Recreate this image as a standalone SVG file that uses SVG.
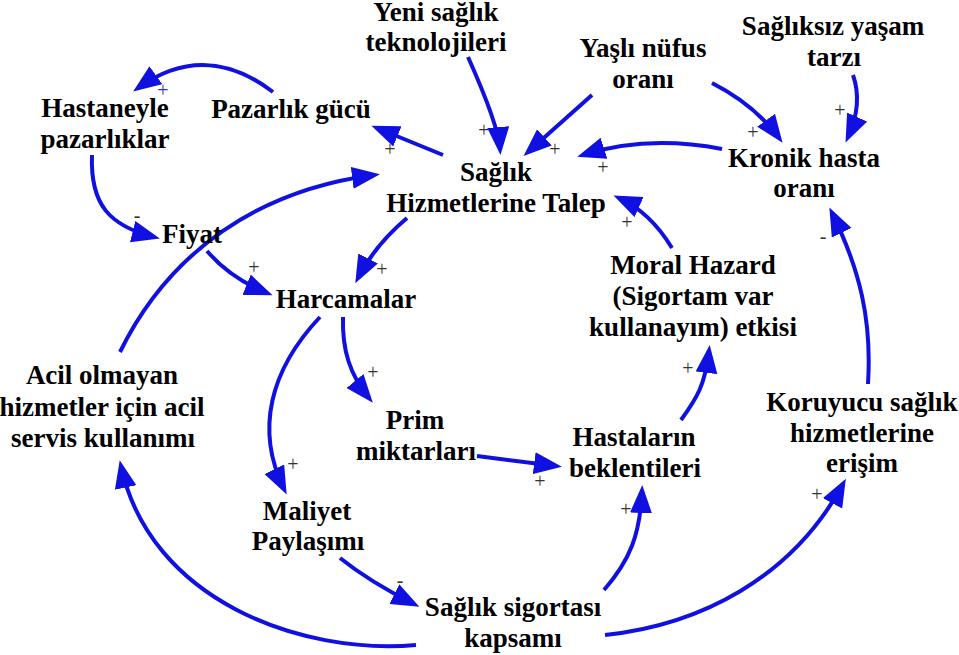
<svg xmlns="http://www.w3.org/2000/svg" width="959" height="655" viewBox="0 0 959 655">
<defs>
<marker id="ah" markerUnits="userSpaceOnUse" markerWidth="30" markerHeight="24" refX="22" refY="11" orient="auto">
<path d="M0,0 L28,11 L0,22 z" fill="#1010e0"/>
</marker>
<style>
.n{font-family:"Liberation Serif","Times New Roman",serif;font-weight:bold;font-size:27px;fill:#000;text-anchor:middle}
.c path{fill:none;stroke:#1010e0;stroke-width:4;marker-end:url(#ah)}
.p{font-family:"Liberation Serif","Times New Roman",serif;font-size:20px;fill:#333;text-anchor:middle}
</style>
</defs>
<rect width="959" height="655" fill="#fff"/>
<g class="c" id="connectors">
<path d="M273,92 Q205,40 138,88"/>
<path d="M92,155 C90,205 110,226 154,237"/>
<path d="M443,155 L377,128"/>
<path d="M120,352 C170,250 260,190 374,175"/>
<path d="M207,251 Q230,278 267,293"/>
<path d="M407,218 Q375,245 358,278"/>
<path d="M468,57 Q498,124 500,149"/>
<path d="M592,95 L528,152"/>
<path d="M722,149 C680,141 630,140 583,155"/>
<path d="M712,83 Q755,105 779,138"/>
<path d="M853,75 C860,95 858,115 848,137"/>
<path d="M672,248 Q650,212 619,198"/>
<path d="M868,384 C872,320 860,270 832,213"/>
<path d="M320,317 C270,370 255,430 284,489"/>
<path d="M343,317 C342,350 350,375 369,398"/>
<path d="M477,456 Q510,460 556,466"/>
<path d="M340,558 Q370,582 414,604"/>
<path d="M416,645 C300,655 150,600 121,466"/>
<path d="M604,590 C630,560 640,535 642,491"/>
<path d="M681,420 C697,398 705,385 709,351"/>
<path d="M605,635 C700,625 792,578 843,484"/>
</g>
<g id="polarities">
<text class="p" x="163" y="97" style="fill:#3535c0">+</text>
<text class="p" x="137" y="222">-</text>
<text class="p" x="390" y="156">+</text>
<text class="p" x="254" y="274">+</text>
<text class="p" x="382" y="276">+</text>
<text class="p" x="484" y="137">+</text>
<text class="p" x="555" y="156">+</text>
<text class="p" x="603" y="174">+</text>
<text class="p" x="753" y="139">+</text>
<text class="p" x="840" y="117">+</text>
<text class="p" x="627" y="229">+</text>
<text class="p" x="823" y="243">-</text>
<text class="p" x="293" y="471">+</text>
<text class="p" x="373" y="379">+</text>
<text class="p" x="540" y="488">+</text>
<text class="p" x="400" y="587">-</text>
<text class="p" x="626" y="516">+</text>
<text class="p" x="688" y="375">+</text>
<text class="p" x="817" y="501">+</text>
</g>
<g id="hastaneyle"><text class="n" x="105" y="117">Hastaneyle</text><text class="n" x="105" y="148">pazarlıklar</text></g>
<g id="pazarlik"><text class="n" x="291" y="118">Pazarlık gücü</text></g>
<g id="yeni"><text class="n" x="436" y="21">Yeni sağlık</text><text class="n" x="436" y="51">teknolojileri</text></g>
<g id="talep"><text class="n" x="496" y="181">Sağlık</text><text class="n" x="496" y="212">Hizmetlerine Talep</text></g>
<g id="yasli"><text class="n" x="643" y="57">Yaşlı nüfus</text><text class="n" x="643" y="88">oranı</text></g>
<g id="sagliksiz"><text class="n" x="833" y="35">Sağlıksız yaşam</text><text class="n" x="834" y="66">tarzı</text></g>
<g id="kronik"><text class="n" x="804" y="167">Kronik hasta</text><text class="n" x="804" y="197">oranı</text></g>
<g id="fiyat"><text class="n" x="192" y="243">Fiyat</text></g>
<g id="harcamalar"><text class="n" x="346" y="308">Harcamalar</text></g>
<g id="moral"><text class="n" x="693" y="274">Moral Hazard</text><text class="n" x="693" y="305">(Sigortam var</text><text class="n" x="693" y="336">kullanayım) etkisi</text></g>
<g id="acil"><text class="n" x="102" y="384">Acil olmayan</text><text class="n" x="102" y="416">hizmetler için acil</text><text class="n" x="103" y="447">servis kullanımı</text></g>
<g id="prim"><text class="n" x="415" y="429">Prim</text><text class="n" x="416" y="460">miktarları</text></g>
<g id="maliyet"><text class="n" x="307" y="520">Maliyet</text><text class="n" x="308" y="550">Paylaşımı</text></g>
<g id="hastalarin"><text class="n" x="634" y="446">Hastaların</text><text class="n" x="635" y="477">beklentileri</text></g>
<g id="koruyucu"><text class="n" x="862" y="411">Koruyucu sağlık</text><text class="n" x="862" y="442">hizmetlerine</text><text class="n" x="862" y="472">erişim</text></g>
<g id="sigorta"><text class="n" x="513" y="616">Sağlık sigortası</text><text class="n" x="513" y="647">kapsamı</text></g>
</svg>
